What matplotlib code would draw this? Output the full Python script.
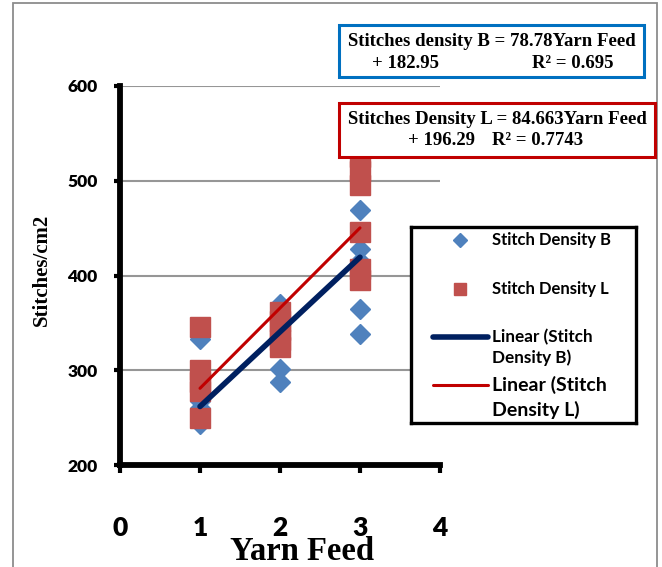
import numpy as np
import matplotlib.pyplot as plt
from matplotlib.patches import Rectangle
from matplotlib.lines import Line2D

W, H = 662, 567
sans = ['Lato', 'DejaVu Sans']
serif = ['Liberation Serif', 'DejaVu Serif']

# data
x_b = [1, 1, 1, 1, 1, 1, 2, 2, 2, 2, 2, 2, 3, 3, 3, 3, 3, 3]
y_b = [333, 268, 243, 255, 260, 250,
       370, 301, 288, 345, 360, 352,
       469, 428, 365, 338, 500, 415]
x_l = [1, 1, 1, 1, 1, 2, 2, 2, 2, 2, 3, 3, 3, 3, 3, 3]
y_l = [346, 300, 288, 278, 250,
       362, 352, 342, 332, 325,
       525, 510, 495, 446, 407, 395]
slope_b, icpt_b, r2_b = 78.78, 182.95, 0.695
slope_l, icpt_l, r2_l = 84.663, 196.29, 0.7743
x_ticks = [0, 1, 2, 3, 4]
y_ticks = [200, 300, 400, 500, 600]

c_b = '#4F81BD'
c_l = '#C0504D'
c_lin_b = '#002060'
c_lin_l = '#C00000'


def fx(px):
    return px / W


def fy(py):
    return 1 - py / H


fig = plt.figure(figsize=(W / 100, H / 100), dpi=100)

# outer gray frame of the chart
fig.patches.append(Rectangle((fx(13), -0.02), fx(657) - fx(13), fy(3) + 0.02,
                             transform=fig.transFigure, fill=False,
                             edgecolor='#8C8C8C', linewidth=1.3))

ax = fig.add_axes([fx(120), fy(465), (440 - 120) / W, (465 - 86) / H])
ax.set_xlim(0, 4)
ax.set_ylim(200, 600)
ax.set_xticks(x_ticks)
ax.set_yticks(y_ticks)
ax.set_xticklabels([str(v) for v in x_ticks], fontfamily=sans, fontweight='heavy', fontsize=19)
ax.set_yticklabels([str(v) for v in y_ticks], fontfamily=sans, fontweight='heavy', fontsize=12.5)
ax.yaxis.grid(True, color='#969696', linewidth=1.5)
ax.set_axisbelow(True)
for s in ['top', 'right']:
    ax.spines[s].set_visible(False)
for s in ['left', 'bottom']:
    ax.spines[s].set_linewidth(4.2)
    ax.spines[s].set_color('black')

ax.tick_params(axis='y', length=4, width=3, pad=12)
ax.tick_params(axis='x', length=6, width=3, pad=31)

ax.plot(x_b, y_b, linestyle='none', marker='D', markersize=10, color=c_b, clip_on=False)
ax.plot(x_l, y_l, linestyle='none', marker='s', markersize=14, color=c_l, clip_on=False)

xs = np.array([1, 3])
ax.plot(xs, slope_b * xs + icpt_b, color=c_lin_b, linewidth=4, solid_capstyle='round')
ax.plot(xs, slope_l * xs + icpt_l, color=c_lin_l, linewidth=2.2, solid_capstyle='round')

ax.set_xlabel('Yarn Feed', fontfamily=serif, fontweight='bold', fontsize=23.5, va='center')
ax.xaxis.set_label_coords((302 - 120) / 320, -(551 - 465) / 379)
ax.set_ylabel('Stitches/cm2', fontfamily=serif, fontweight='bold', fontsize=15, va='center')
ax.yaxis.set_label_coords((42 - 120) / 320, (465 - 270) / 379)

# trendline equation boxes
eq = dict(fontfamily=serif, fontweight='bold', fontsize=13.5, va='center', zorder=6)
fig.patches.append(Rectangle((fx(339), fy(77)), (644 - 339) / W, (77 - 25) / H,
                             transform=fig.transFigure, facecolor='white',
                             edgecolor='#0070C0', linewidth=2.2, zorder=5))
fig.text(fx(492), fy(42), f'Stitches density B = {slope_b}Yarn Feed', ha='center', **eq)
fig.text(fx(372), fy(64), f'+ {icpt_b}', ha='left', **eq)
fig.text(fx(532), fy(64), f'R² = {r2_b}', ha='left', **eq)

fig.patches.append(Rectangle((fx(339), fy(157)), (655 - 339) / W, (157 - 103) / H,
                             transform=fig.transFigure, facecolor='white',
                             edgecolor=c_lin_l, linewidth=2.2, zorder=5))
fig.text(fx(497), fy(120), f'Stitches Density L = {slope_l}Yarn Feed', ha='center', **eq)
fig.text(fx(408), fy(141), f'+ {icpt_l}', ha='left', **eq)
fig.text(fx(492), fy(141), f'R² = {r2_l}', ha='left', **eq)

# legend box, laid out in its own pixel coords
lg = fig.add_axes([fx(411), fy(423), (636 - 411) / W, (423 - 227) / H])
lg.set_xlim(0, 225)
lg.set_ylim(196, 0)
lg.set_xticks([])
lg.set_yticks([])
for s in lg.spines.values():
    s.set_linewidth(2.4)
    s.set_color('black')
lg.add_line(Line2D([49], [13], marker='D', markersize=7, color=c_b, linestyle='none'))
lg.add_line(Line2D([49], [62], marker='s', markersize=9, color=c_l, linestyle='none'))
lg.add_line(Line2D([22, 77], [110, 110], color=c_lin_b, linewidth=4, solid_capstyle='round'))
lg.add_line(Line2D([22, 77], [158, 158], color=c_lin_l, linewidth=2.2, solid_capstyle='round'))
kw = dict(fontfamily=sans, fontweight='bold', ha='left', va='center')
lg.text(81, 13, 'Stitch Density B', fontsize=12, **kw)
lg.text(81, 62, 'Stitch Density L', fontsize=12, **kw)
lg.text(81, 110, 'Linear (Stitch', fontsize=12.3, **kw)
lg.text(81, 131, 'Density B)', fontsize=12.3, **kw)
lg.text(81, 158, 'Linear (Stitch', fontsize=14, **kw)
lg.text(81, 183, 'Density L)', fontsize=14, **kw)

fig.savefig('out.png', dpi=100)
